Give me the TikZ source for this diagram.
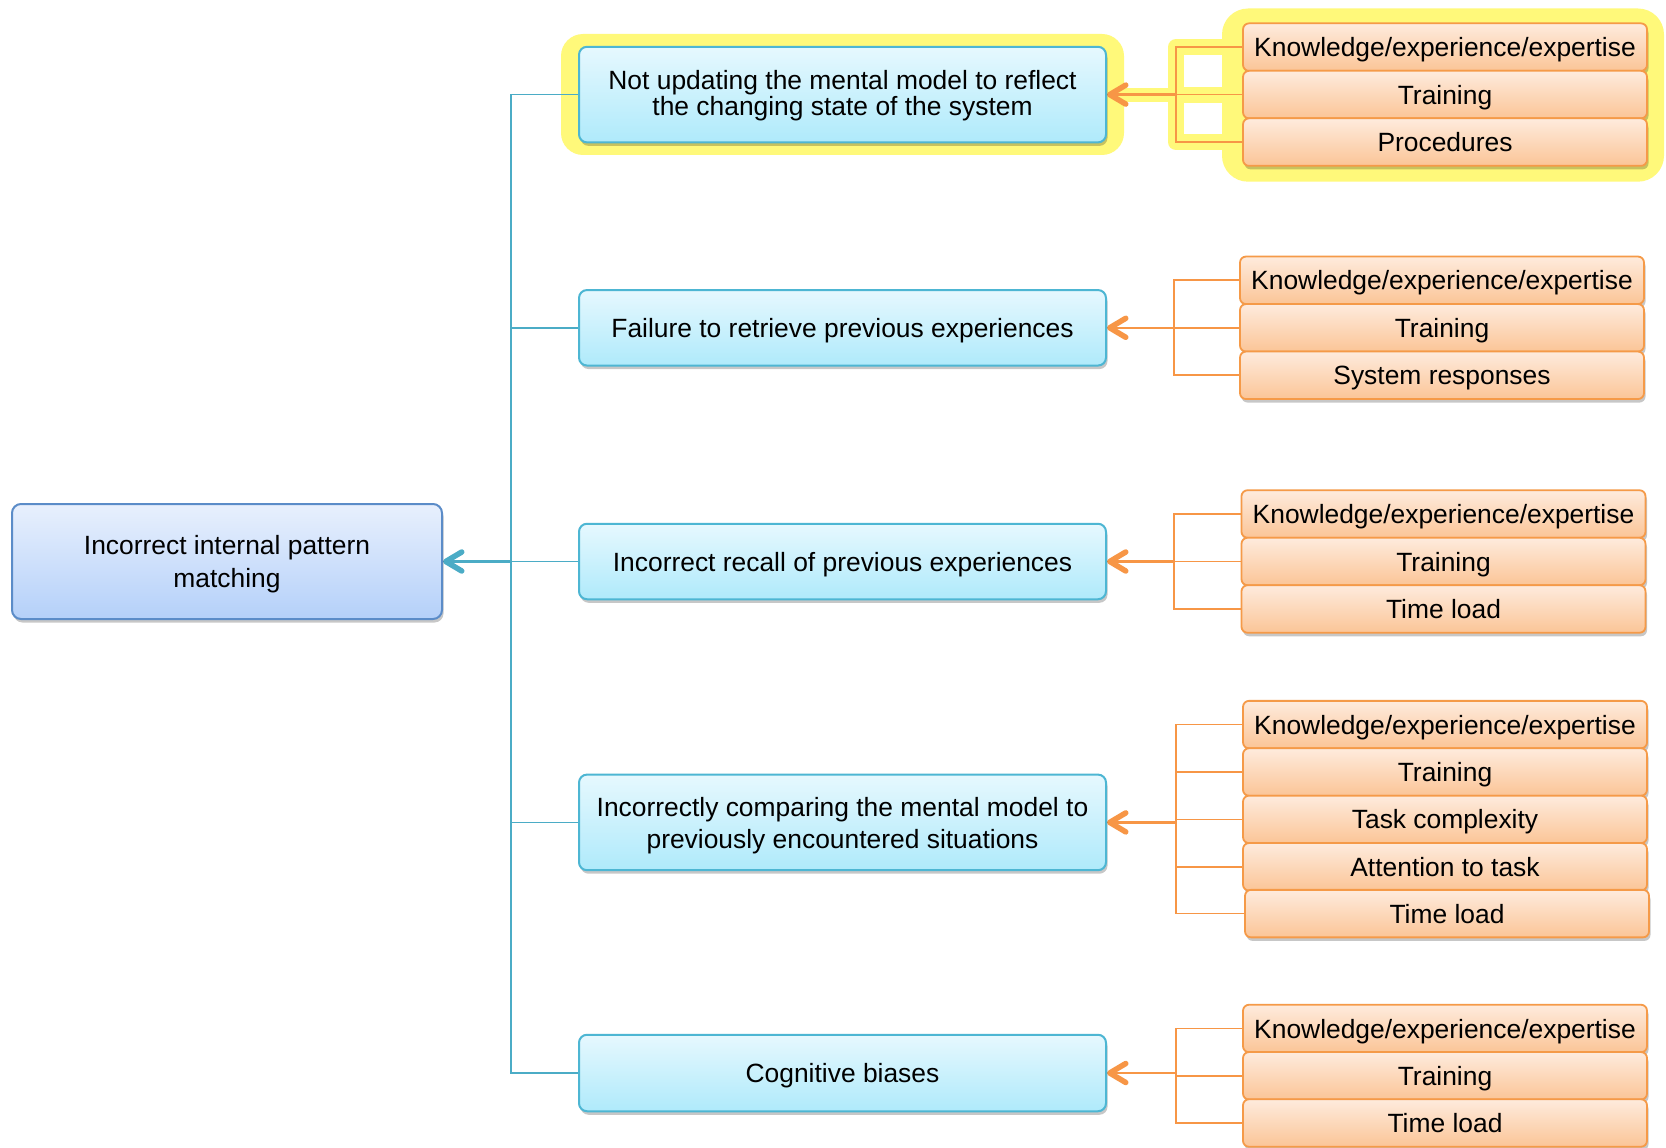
\documentclass[tikz,border=0pt]{standalone}
\usepackage{fontspec}
\setmainfont{Liberation Sans}
\usetikzlibrary{arrows.meta,shadows}

\definecolor{hilite}{HTML}{FFF97A}
\definecolor{trunkc}{HTML}{4BACC6}
\definecolor{orangec}{HTML}{F79646}
\definecolor{bluetop}{HTML}{E6F8FE}
\definecolor{bluebot}{HTML}{AFEAFB}
\definecolor{blueedge}{HTML}{4DB6D3}
\definecolor{roottop}{HTML}{E8F0FD}
\definecolor{rootbot}{HTML}{B4D0F9}
\definecolor{rootedge}{HTML}{5B8CC8}
\definecolor{ortop}{HTML}{FEEBDD}
\definecolor{orbot}{HTML}{FBC597}
\definecolor{oredge}{HTML}{F59A48}

\pgfdeclarelayer{paper}
\pgfdeclarelayer{hl}
\pgfdeclarelayer{conn}
\pgfsetlayers{paper,hl,conn,main}

% invisible height to push the first line of a box down a little
\newcommand{\ascent}[1]{\rule{0pt}{#1}}

\tikzset{
  boxshadow/.style={drop shadow={shadow xshift=1.5pt, shadow yshift=-3.5pt, fill=black, opacity=0.22}},
  rootbox/.style={rounded corners=9pt, line width=2pt, draw=rootedge, top color=roottop, bottom color=rootbot,
    boxshadow, minimum width=430pt, minimum height=115pt, inner sep=0pt, align=center,
    font=\fontsize{26.4}{33}\selectfont},
  causebox/.style={rounded corners=8pt, line width=2pt, draw=blueedge, top color=bluetop, bottom color=bluebot,
    boxshadow, minimum width=527pt, inner sep=0pt, align=center},
  oneline/.style={text height=21pt, text depth=2pt},
  factorbox/.style={rounded corners=6pt, line width=1.8pt, draw=oredge, top color=ortop, bottom color=orbot,
    boxshadow, minimum width=404pt, minimum height=47.5pt, inner sep=0pt, oneline,
    font=\fontsize{26.4}{30}\selectfont},
  barb/.style={-{Straight Barb[length=16pt,width=19pt,line width=5.5pt,round]}},
  trunkline/.style={draw=trunkc, line width=1.8pt},
  rootarrow/.style={draw=trunkc, line width=2.6pt, barb},
  branch/.style={draw=orangec, line width=1.7pt},
  brancharrow/.style={draw=orangec, line width=2.6pt, barb},
  highlight/.style={fill=hilite, rounded corners=22pt},
  hiliteline/.style={draw=hilite, line width=16pt, line join=round},
}

\begin{document}
\begin{tikzpicture}[x=1pt,y=-1pt]
  \begin{pgfonlayer}{paper}
    \useasboundingbox[fill=white] (0,0) rectangle (1666,1147);
  \end{pgfonlayer}

  % first cause and its factor group
  \node[causebox, minimum height=95.6pt, font=\fontsize{26.4}{26}\selectfont] (b1) at (842.5,94.6)
    {\ascent{21pt}Not updating the mental model to reflect\\the changing state of the system};
  \node[factorbox] (f11) at (1445,47.1) {Knowledge/experience/expertise};
  \node[factorbox] (f12) at (1445,94.6) {Training};
  \node[factorbox] (f13) at (1445,142.1) {Procedures};
  \coordinate (g1) at (1176,94.6);

  % second cause
  \node[causebox, oneline, minimum height=75.5pt, font=\fontsize{26.4}{30}\selectfont] (b2) at (842.5,327.8)
    {Failure to retrieve previous experiences};
  \node[factorbox] (f21) at (1442,280.3) {Knowledge/experience/expertise};
  \node[factorbox] (f22) at (1442,327.8) {Training};
  \node[factorbox] (f23) at (1442,375.3) {System responses};
  \coordinate (g2) at (1174,327.8);

  % third cause
  \node[causebox, oneline, minimum height=75.5pt, font=\fontsize{26.4}{30}\selectfont] (b3) at (842.5,561.5)
    {Incorrect recall of previous experiences};
  \node[factorbox] (f31) at (1443.5,514) {Knowledge/experience/expertise};
  \node[factorbox] (f32) at (1443.5,561.5) {Training};
  \node[factorbox] (f33) at (1443.5,609) {Time load};
  \coordinate (g3) at (1174,561.5);

  % fourth cause
  \node[causebox, minimum height=95.6pt, font=\fontsize{26.4}{32}\selectfont] (b4) at (842.5,822.4)
    {\ascent{25pt}Incorrectly comparing the mental model to\\previously encountered situations};
  \node[factorbox] (f41) at (1445,724.6) {Knowledge/experience/expertise};
  \node[factorbox] (f42) at (1445,772) {Training};
  \node[factorbox] (f43) at (1445,819.4) {Task complexity};
  \node[factorbox] (f44) at (1445,866.8) {Attention to task};
  \node[factorbox] (f45) at (1447,913.6) {Time load};
  \coordinate (g4) at (1176,822.4);

  % fifth cause
  \node[causebox, oneline, minimum height=76.5pt, font=\fontsize{26.4}{30}\selectfont] (b5) at (842.5,1073)
    {Cognitive biases};
  \node[factorbox] (f51) at (1445,1028.5) {Knowledge/experience/expertise};
  \node[factorbox] (f52) at (1445,1075.8) {Training};
  \node[factorbox] (f53) at (1445,1123) {Time load};
  \coordinate (g5) at (1176,1073);

  % root effect
  \node[rootbox] (root) at (227,561.5) {\ascent{25pt}Incorrect internal pattern\\matching};
  \coordinate (j) at (511,561.5);

  % yellow emphasis behind the first cause, its factors and their links
  \begin{pgfonlayer}{hl}
    \fill[highlight] (561,34) rectangle (1124,155);
    \fill[highlight, rounded corners=26pt] (1222,8.5) rectangle (1664,181.7);
    \draw[hiliteline] (f11.west) -- (f11.west -| g1) -- (f13.west -| g1) -- (f13.west);
    \draw[hiliteline] (f12.west) -- (f12.west -| g1);
    \draw[hiliteline, line width=14pt] (g1) -- (b1.east);
  \end{pgfonlayer}

  \begin{pgfonlayer}{conn}
    % cause links into the root
    \draw[trunkline] (b1.west) -- (b1.west -| j) -- (b5.west -| j) -- (b5.west);
    \draw[trunkline] (b2.west) -- (b2.west -| j);
    \draw[trunkline] (b3.west) -- (j);
    \draw[trunkline] (b4.west) -- (b4.west -| j);
    \draw[rootarrow] (j) -- (root.east);

    % factor brackets
    \draw[branch] (f11.west) -- (f11.west -| g1) -- (f13.west -| g1) -- (f13.west);
    \draw[branch] (f12.west) -- (f12.west -| g1);
    \draw[brancharrow] (g1) -- (b1.east);

    \draw[branch] (f21.west) -- (f21.west -| g2) -- (f23.west -| g2) -- (f23.west);
    \draw[branch] (f22.west) -- (f22.west -| g2);
    \draw[brancharrow] (g2) -- (b2.east);

    \draw[branch] (f31.west) -- (f31.west -| g3) -- (f33.west -| g3) -- (f33.west);
    \draw[branch] (f32.west) -- (f32.west -| g3);
    \draw[brancharrow] (g3) -- (b3.east);

    \draw[branch] (f41.west) -- (f41.west -| g4) -- (f45.west -| g4) -- (f45.west);
    \draw[branch] (f42.west) -- (f42.west -| g4);
    \draw[branch] (f43.west) -- (f43.west -| g4);
    \draw[branch] (f44.west) -- (f44.west -| g4);
    \draw[brancharrow] (g4) -- (b4.east);

    \draw[branch] (f51.west) -- (f51.west -| g5) -- (f53.west -| g5) -- (f53.west);
    \draw[branch] (f52.west) -- (f52.west -| g5);
    \draw[brancharrow] (g5) -- (b5.east);
  \end{pgfonlayer}
\end{tikzpicture}
\end{document}
